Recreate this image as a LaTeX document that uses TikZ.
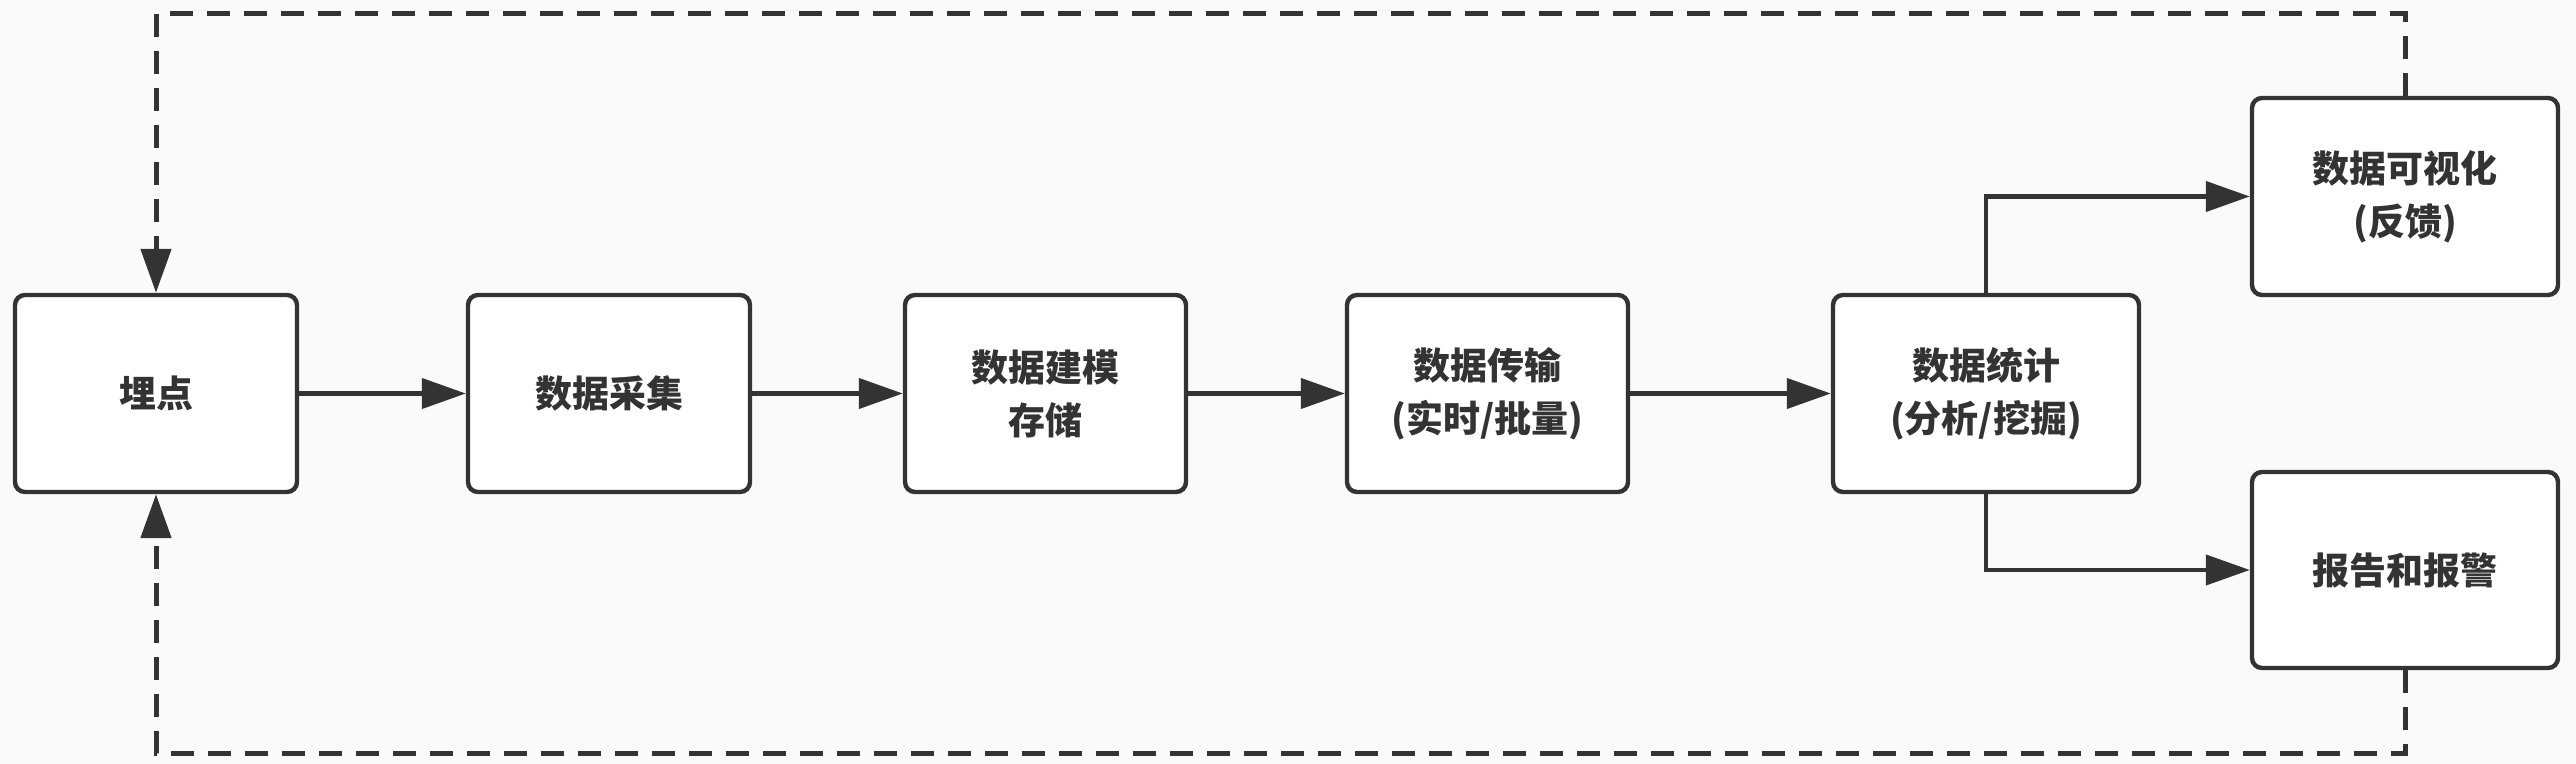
\documentclass[tikz,border=0pt]{standalone}
\usepackage{fontspec}
\setmainfont{Noto Sans CJK SC}
\usetikzlibrary{arrows.meta}
\definecolor{ink}{HTML}{333333}
\definecolor{bg}{HTML}{FAFAFA}
\begin{document}
\begin{tikzpicture}[x=0.5pt,y=-0.5pt,
  box/.style={draw=ink, line width=2.2pt, fill=white, rounded corners=5pt,
    minimum height=98.5pt, align=center, text=ink,
    font=\fontsize{18.5}{26.5}\selectfont\bfseries},
  conn/.style={draw=ink, line width=2.1pt, -{Triangle[length=22pt,width=15pt]}},
  fb/.style={conn, line width=2.5pt, dash pattern=on 11.5pt off 7pt}]
\useasboundingbox[fill=bg] (0,0) rectangle (2576,764);
\node[box, minimum width=141pt] (a) at (156,393.5) {埋点};
\node[box, minimum width=141pt] (b) at (609,393.5) {数据采集};
\node[box, minimum width=140.5pt] (c) at (1045.5,393.5) {数据建模\\存储};
\node[box, minimum width=140.5pt] (d) at (1487.5,393.5) {数据传输\\(实时/批量)};
\node[box, minimum width=153pt] (e) at (1986,393.5) {数据统计\\(分析/挖掘)};
\node[box, minimum width=153pt] (f) at (2405,196.5) {数据可视化\\(反馈)};
\node[box, minimum width=153pt, minimum height=98pt] (g) at (2405,570) {报告和报警};
\coordinate (topc) at (1200,14);
\coordinate (botc) at (1200,753);
\draw[conn] (a.east) -- (b.west);
\draw[conn] (b.east) -- (c.west);
\draw[conn] (c.east) -- (d.west);
\draw[conn] (d.east) -- (e.west);
\draw[conn] (e.north) |- (f.west);
\draw[conn] (e.south) |- (g.west);
\draw[fb] (f.north) |- (topc) -| (a.north);
\draw[fb] (g.south) |- (botc) -| (a.south);
\end{tikzpicture}
\end{document}
